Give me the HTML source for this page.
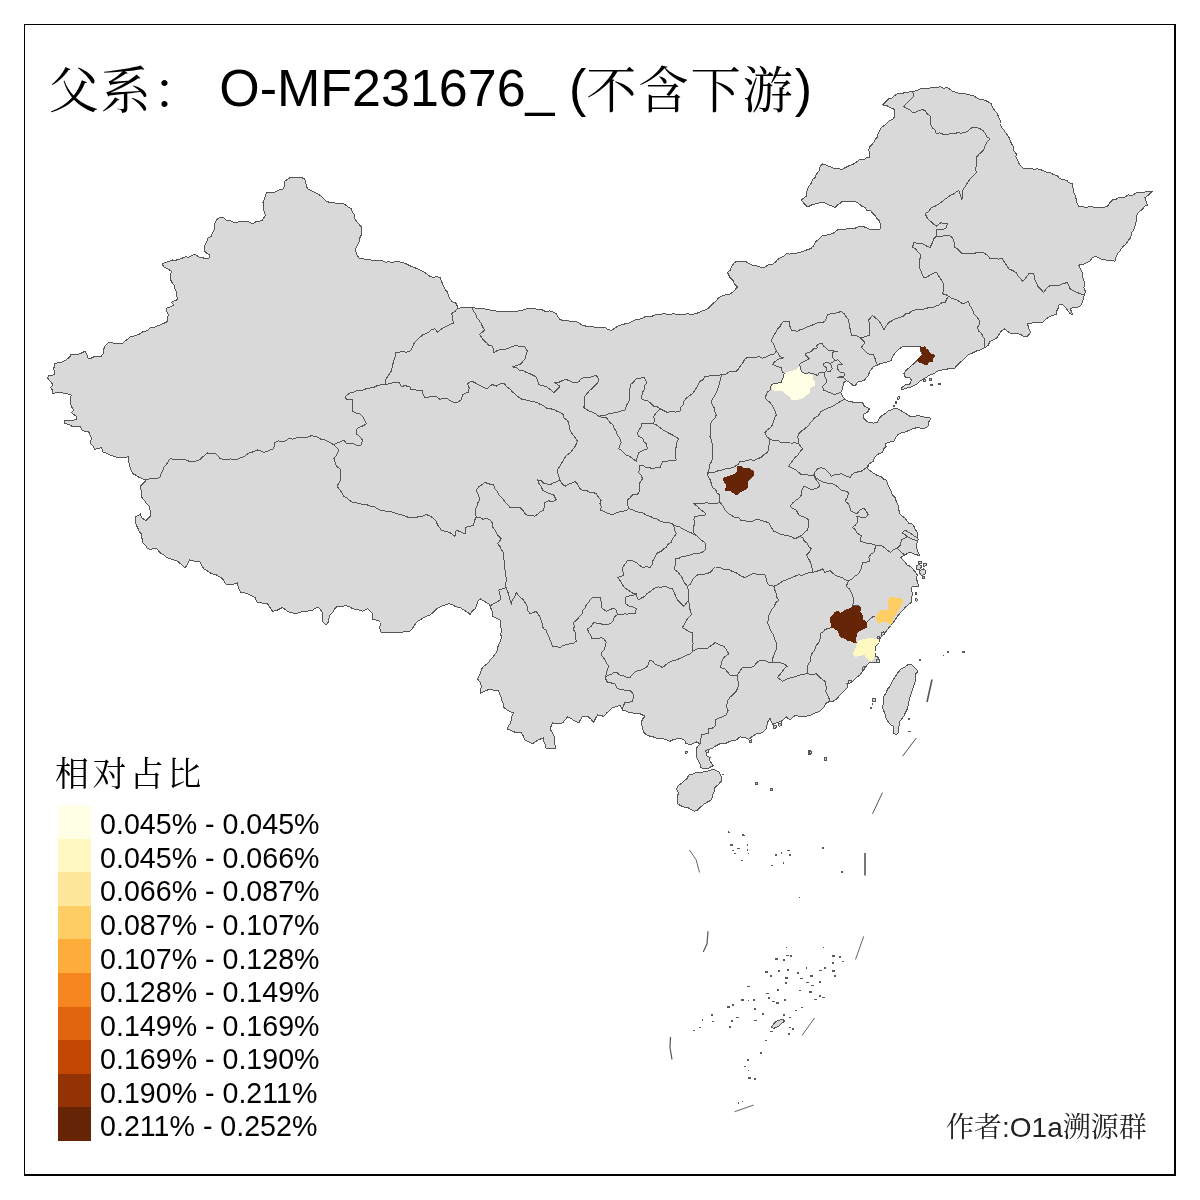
<!DOCTYPE html>
<html lang="zh"><head><meta charset="utf-8"><title>父系 O-MF231676_</title>
<style>
html,body{margin:0;padding:0;background:#fff;}
body{width:1200px;height:1200px;overflow:hidden;position:relative;font-family:"Liberation Sans","Noto Serif CJK SC",serif;color:#000;}
svg{position:absolute;left:0;top:0;}
.t{position:absolute;white-space:nowrap;line-height:1;}
#title{left:48.5px;top:59px;font-size:52px;}
#title .c,#ltitle,.credit .c{font-family:"Noto Serif CJK SC","Noto Serif CJK JP",serif;font-weight:400;}
#title .c{position:relative;top:1.6px;font-size:50.4px;letter-spacing:1.7px;}
#ltitle{left:55px;top:755px;font-size:34px;letter-spacing:3.4px;}
.lab{left:100.1px;font-size:28.6px;}
.credit{left:946px;top:1111px;font-size:28px;color:#222;}
</style></head><body>

<svg width="1200" height="1200" viewBox="0 0 1200 1200">
<g fill="#d9d9d9" stroke="#555555" stroke-width="1" stroke-linejoin="round" shape-rendering="crispEdges">
<path d="M300 177 L304.5 178.75 L305.63 182.04 L306.23 185.5 L307.5 188.75 L310.89 190.31 L314.24 191.93 L317.5 193.75 L320.75 195.86 L323.41 198.66 L326.25 201.25 L329.66 202.36 L333.22 202.48 L336.67 203.31 L340.23 203.39 L343.75 203.75 L347.38 206.43 L351.25 208.75 L352.4 212.12 L354.61 215.09 L355 218.75 L356.97 221.96 L359.45 224.76 L362 227.5 L361.06 230.78 L361.58 234.35 L360 237.5 L359.64 240.98 L357.95 243.93 L356.49 246.97 L355 250 L356.72 254.07 L358.75 258 L362 258.48 L365.21 259.28 L368.55 259.15 L371.72 260.17 L375 260.5 L378.42 260.97 L381.9 260.64 L385.24 262.19 L388.73 261.81 L392.14 262.41 L395.65 261.66 L399.09 261.84 L402.5 262.5 L405.57 263.58 L408.52 264.95 L411.37 266.57 L414.45 267.63 L417.5 268.75 L420.75 270.41 L424.02 272.05 L427.02 274.13 L430 276.25 L433.25 277.33 L436.72 276.64 L440 277.5 L441.75 281.93 L443.75 286.25 L445.1 289.48 L447.61 292.13 L448.41 295.64 L450 298.75 L451.99 301.76 L455.71 303.04 L457.5 306.25 L457.5 308.25 L461.24 307.89 L465 307.82 L468.73 307.24 L472.5 307.5 L475.96 308.27 L479.5 308.47 L483.11 308.2 L486.44 309.95 L490 310 L493.18 310.65 L496.38 311.09 L499.57 311.65 L502.84 311.34 L506.07 311.49 L509.35 311 L512.5 312 L516.06 311.73 L519.44 310.47 L522.96 309.95 L526.38 308.91 L530 309 L534.21 308.8 L538.36 309.38 L542.5 310 L545.75 311.62 L549.64 310.91 L553.02 312.04 L556.25 313.75 L558.01 316.7 L560 319.5 L564.06 320.87 L568.29 320.98 L572.5 321.25 L575.86 321.47 L578.86 322.62 L581.43 324.88 L584.64 325.47 L587.5 327 L591.67 326.38 L595.83 327.54 L600 327 L604.5 327 L607.6 329.29 L611.25 330.5 L614.42 328.45 L617.5 326.25 L621.05 325.13 L624.58 323.97 L628.29 323.33 L631.61 321.57 L635 320 L638.61 319.36 L642.16 318.46 L645.41 316.41 L649.34 317.02 L652.84 315.93 L656.25 314.5 L659.64 314.79 L663.04 313.5 L666.43 314.15 L669.82 314.96 L673.21 313.5 L676.61 314.4 L680 314.5 L683.78 314.87 L687.46 313.4 L691.29 314.82 L695 313.75 L698.24 312.78 L701.22 311.17 L704.44 310.17 L707.5 308.75 L710.57 306.19 L713.17 303.17 L716.38 300.76 L718.75 297.5 L722.06 295.91 L725.55 294.79 L729.26 294.29 L732.5 292.5 L735.01 289.76 L737.5 287 L734.62 284.13 L732.91 280.34 L730 277.5 L727.5 272.5 L730.32 270.18 L731.68 266.72 L733.46 263.6 L736.25 261.25 L740.62 261.18 L745 261.25 L748.79 263.3 L752.5 265.5 L756.69 265.84 L760.74 267.27 L765 267 L768.1 264.98 L771.95 264.63 L775 262.5 L777.38 259.76 L780.36 257.78 L783.65 256.21 L786.25 253.75 L789.74 254.06 L793.17 253.6 L796.58 253 L800 252.5 L803.15 251.32 L806.28 250.08 L809.49 249.04 L812.5 247.5 L814.29 244.33 L816.25 241.25 L819.48 238.49 L822.5 235.5 L825.89 235.23 L829.17 234.33 L832.5 233.75 L837.5 230 L841.73 229.75 L845.88 228.97 L850 228 L854.31 228.41 L858.36 227.01 L862.5 226.25 L866.34 227.66 L870 229.5 L873.33 229.3 L876.67 229.49 L880 229.5 L880.5 223.75 L879.09 220.72 L876.68 218.35 L875 215.5 L872.63 213.33 L870.62 210.72 L866.88 210.28 L865 207.5 L861.34 205.94 L858.4 203.22 L855 201.25 L850.83 201.03 L846.67 201.12 L842.5 201.25 L840.15 203.52 L837.27 205.14 L835 207.5 L831.73 205.86 L828.22 204.76 L825 203 L820.71 202.51 L816.64 203.81 L812.5 204.5 L807.5 207 L804.15 203.7 L801.25 200 L806.25 196.25 L806.82 192.49 L807.5 188.75 L809.27 185.87 L811.22 183.11 L812.29 179.76 L815 177.5 L816.64 173.93 L819.24 170.89 L820.06 166.88 L822.5 163.75 L825.64 164.76 L828.58 166.33 L831.73 167.32 L834.74 168.69 L838.42 168.07 L841.25 170 L844.41 168.08 L847.66 166.33 L851.16 165.05 L854.53 163.53 L857.5 161.25 L860.34 159.35 L863.92 159.95 L866.65 157.67 L870 157.5 L869.75 153.69 L868.75 150 L870.14 146.23 L873 143.38 L875 140 L877.15 137.17 L878.05 133.71 L879.78 130.67 L881.25 127.5 L884.28 125.59 L886.8 123.06 L889.47 120.71 L892.78 119.15 L895 116.25 L894.94 112.41 L893.75 108.75 L889.95 107.65 L886.57 105.3 L882.5 105 L886.25 101.25 L888.71 98.85 L892.15 97.92 L894.61 95.5 L897.5 93.75 L901.26 93.2 L905.06 92.88 L908.77 92 L912.5 91.25 L916.06 90.95 L919.35 89.12 L922.85 88.48 L926.56 88.98 L930 88 L933.48 87.37 L936.98 87.24 L940.48 86.89 L944.02 88.3 L947.5 87.5 L952.5 91.25 L955.91 92.4 L959.33 93.54 L963.11 93 L966.5 94.25 L970 95 L973.65 95.66 L976.73 97.9 L980.01 99.57 L983.75 100 L987.72 101.44 L991.25 103.75 L992.61 107.54 L994.96 110.7 L997.5 113.75 L998.43 117.06 L1000.14 120.17 L1000 123.75 L1001.43 127.49 L1004.21 130.39 L1006.25 133.75 L1007.5 135 L1009.36 137.98 L1010.43 141.35 L1011.99 144.48 L1013.75 147.5 L1013.9 150.86 L1016.16 153.59 L1015.96 157.05 L1017.5 160 L1018.92 163.39 L1021.02 166.3 L1023.75 168.75 L1027.19 168.65 L1030.62 168.34 L1034.06 169.31 L1037.5 168.75 L1040.61 169.75 L1043.73 170.69 L1046.65 172.31 L1050 172.5 L1053.41 174.46 L1057.2 175.82 L1060 178.75 L1063.2 179.8 L1066.62 180.32 L1069.21 182.92 L1072.5 183.75 L1072.95 188.15 L1073.75 192.5 L1075.32 195.82 L1076.25 199.37 L1077.07 202.97 L1078.75 206.25 L1082.19 206.48 L1085.59 207.35 L1089.06 206.78 L1092.5 207 L1096.28 207.38 L1100.04 207.44 L1103.79 207.32 L1107.5 206.25 L1109.71 202.89 L1112.5 200 L1115.74 199.72 L1118.52 197.53 L1121.74 197.17 L1125 197 L1128.46 194.92 L1132.67 195.31 L1136.06 192.98 L1140 192.5 L1144.17 192.08 L1148.32 191.56 L1152.5 191.25 L1150.01 193.35 L1147.71 195.67 L1145 197.5 L1146.13 201.29 L1147.5 205 L1144.35 206.45 L1142.48 209.36 L1139.81 211.34 L1137.5 213.75 L1136.21 216.88 L1136.11 220.27 L1135.93 223.66 L1134.8 226.82 L1133.75 230 L1131.36 233.15 L1130.79 237.31 L1128.41 240.47 L1126.25 243.75 L1123.65 245.89 L1121.55 248.46 L1119.68 251.25 L1117.5 253.75 L1115.83 257.36 L1115 261.25 L1111.68 260.58 L1108.22 260.72 L1105 259.5 L1101.4 259.23 L1098.22 257.67 L1095 256.25 L1092.18 257.94 L1090.2 260.66 L1087.5 262.5 L1083.26 264.23 L1078.75 265 L1080.4 268.62 L1082.05 272.23 L1082.56 276.23 L1083.75 280 L1084.59 283.72 L1083.92 287.51 L1085.31 291.2 L1084.5 295 L1083.25 298.28 L1082.67 301.78 L1081.25 305 L1077.82 307.2 L1073.62 307.12 L1070 308.75 L1071.64 311.81 L1073 315 L1069.67 313.08 L1067.41 310.09 L1065.24 307.01 L1062.5 304.5 L1058.75 305 L1058.16 308.23 L1056.67 311.22 L1056.25 314.5 L1052.37 315.36 L1048.75 317 L1045.38 319.47 L1042.5 322.5 L1038.74 322.63 L1034.94 322.39 L1031.22 323.08 L1027.5 323.75 L1028.77 328.21 L1030.5 332.5 L1027.5 336.25 L1023.82 336.58 L1020.59 334.47 L1017.13 333.59 L1013.47 333.81 L1010 333 L1007.33 331.07 L1005 328.75 L1001.17 331.17 L998.75 335 L996.65 338.22 L993.08 339.81 L989.83 341.76 L988.09 345.38 L985 347.5 L980 350 L976.11 351.15 L972.5 353 L968.2 354.67 L965 358 L962.54 360.3 L960 362.5 L957.27 365.04 L955 368 L948.75 368.75 L942.5 370 L939.22 370.53 L936.25 372 L933.34 373.95 L930 375 L925 378 L920 381.25 L917.5 383.75 L914.4 385.42 L911.25 387 L908.08 387.72 L905 388.75 L901.9 390 L901.9 387.5 L905 385 L910.6 383.75 L911.25 380 L910 378 L905 376.9 L903.75 373.75 L906.25 370 L910 367 L913.75 363.75 L917.5 360 L920 356.9 L922.5 354.4 L920.6 350.6 L920 346.25 L915.6 346.5 L912.08 345.96 L908.53 346.35 L905 346.25 L901.9 346.9 L898.1 350 L895 353.1 L892.5 356.9 L891.25 360.6 L888.16 361.65 L885 362.5 L880 363.75 L877.08 365.52 L873.75 366.25 L870 371.25 L868.1 375.6 L866.07 378.23 L863.75 380.6 L858.1 381.9 L855.6 385 L853.1 385.6 L849.96 382.7 L846.25 380.6 L843.75 382.5 L842.5 388.75 L840.6 392.5 L842.5 396.25 L845 399.4 L848.75 401.25 L855 402.5 L858.75 402.56 L862.5 402.5 L864.4 406.25 L869.4 408.75 L867.5 412.5 L863.1 414.4 L863.1 417.5 L867.5 421.9 L873.75 423.1 L877.5 422.5 L879.4 418.1 L881.91 415.55 L885 413.75 L887.5 411.25 L892.5 409.4 L895 408.1 L898.64 409.25 L901.9 411.25 L906.25 413.75 L910 416.25 L913.84 416.92 L917.5 415.6 L921.25 416.25 L925.54 417.5 L930 417.5 L930 420 L928.1 423.1 L928.75 425 L926.25 427.5 L923.1 428.75 L917.5 427.5 L912.5 428.75 L908.75 430.6 L905 431.9 L901.43 432.82 L898.1 434.4 L895 438.75 L893.75 441.25 L888.1 442.5 L885 443.75 L886.25 446.25 L883.75 448.75 L882.5 452.5 L877.5 454.4 L874.4 457.5 L873.1 461.25 L868.75 464.4 L867.5 466.25 L868.1 469.4 L872.5 472.5 L877.5 475.6 L881.14 476.65 L883.75 479.4 L886.25 480 L887.39 483.47 L888.91 486.77 L890.6 490 L892 494.22 L895 497.5 L896.33 501.34 L898.1 505 L898.79 509.04 L899.4 513.1 L902.01 515.81 L905 518.1 L908.75 523.1 L912.13 524.17 L914.4 526.9 L915.45 529.98 L917.5 532.5 L917.62 535.97 L918.1 539.4 L916.25 545 L917.5 551.25 L920 555.6 L917.5 555 L914.23 554.11 L911.25 552.5 L907.85 553.07 L905 555 L900.6 557.5 L905 561.9 L906.85 564.83 L910 566.25 L913.75 570 L917.5 575 L916.25 577.5 L917.5 582.5 L918.75 586.25 L912.5 586.25 L911.25 588.75 L912.5 593.75 L911.25 598.75 L911.9 601.9 L908.75 604.4 L905 607.5 L902.5 610.6 L900 613.1 L897.5 616.25 L895 620 L891.9 624.4 L890 626.25 L886.25 631.25 L882.5 634.4 L880 638.75 L878.75 643.1 L875.6 646.25 L875 651.25 L875.6 656.25 L878.75 657.5 L879.4 661.25 L875 663.1 L870 661.9 L867.5 664.4 L865 668.1 L862.5 671.25 L860 675 L855 678.75 L851.25 682.5 L846.9 683.75 L847.5 687.5 L843.75 691.25 L840 695 L836.25 699.4 L833.34 701.06 L830 701.25 L826.25 703.1 L823.75 707.5 L820 711.25 L815 713.1 L812.01 714.69 L808.75 715.6 L802.5 716.9 L798.78 716.09 L795 715.6 L792.43 717.72 L790 720 L786.25 716.9 L782.5 720.6 L777.5 722.5 L772.5 724.4 L771.05 721.33 L770 718.1 L767.5 722.5 L766.25 728.75 L763.46 731.67 L760 733.75 L756.25 733.75 L752.5 736.25 L748.75 739.4 L745 737.5 L740 736.9 L736.25 740 L730 741.25 L725 743.75 L720 743.75 L715 746.25 L712.5 748.75 L710 748.75 L706.9 752.5 L706.25 755.6 L710 757.5 L709.99 760.92 L711.9 763.75 L713.1 765.6 L708.75 768.1 L703.75 768.75 L700.6 767.5 L700.22 764.21 L698.75 761.25 L696.88 757.71 L696.25 753.75 L696.15 749.88 L697.5 746.25 L700 743.75 L696.25 741.9 L691.25 744.4 L685.6 743.75 L685 740.6 L681.47 738.77 L677.5 738.75 L673.58 739.48 L670 741.25 L665 739.4 L661.34 738.08 L657.5 738.75 L653.89 737.08 L650 736.25 L646.63 734.79 L643.75 732.5 L642.64 728.09 L641.25 723.75 L642.23 719.55 L645 716.25 L640 713.75 L636.2 713.74 L632.5 712.95 L628.75 712.5 L625.73 710.98 L622.5 710 L620 705 L616.38 706.63 L612.5 707.5 L609.63 710.46 L606.49 713.16 L603.75 716.25 L597.5 715 L595.44 718.66 L593.75 722.5 L590.87 719.13 L587.5 716.25 L582.5 716.25 L580.52 719.57 L578.75 723 L574.92 721.16 L571.45 718.62 L567.5 717 L564.98 719.98 L562.5 723 L559.17 723.45 L555.83 723.34 L552.5 723 L550 728.75 L551.67 731.67 L553.39 734.55 L555 737.5 L554.91 741.25 L555 745 L555 748.75 L550.62 748.65 L546.25 748.75 L545.34 745.02 L543.91 741.4 L543.75 737.5 L540.82 738.86 L537.84 740.12 L535.2 741.98 L532.5 743.75 L528.7 741.97 L525 740 L523.34 736.14 L521.25 732.5 L517.7 732.27 L514.16 731.98 L510.94 730.22 L507.5 729.5 L508.27 726.15 L510.38 723.32 L511.25 720 L511.93 716.06 L513.75 712.5 L509.97 711.73 L506.83 709.68 L503.75 707.5 L503.76 703.96 L501.88 700.88 L501.25 697.5 L499.29 693.99 L498.75 690 L495 690.42 L491.25 689.71 L487.5 690 L483.63 691.63 L480 693.75 L480.72 690.02 L481.25 686.25 L480.1 682.14 L477.5 678.75 L479.52 675.16 L480.82 671.25 L482.5 667.5 L485.23 665.23 L488.14 663.14 L490 660 L492.93 656.99 L495.45 653.67 L497.5 650 L497.87 646.7 L499.3 643.73 L500.7 640.74 L501.25 637.5 L500.84 634.01 L501.34 630.46 L500.83 626.98 L500.75 623.46 L500 620 L496.2 618.23 L492.5 616.25 L492.64 612.67 L491.49 609.42 L490 606.25 L488.75 603.75 L485.77 602.19 L482.94 600.37 L480 598.75 L477.44 601.64 L476.84 605.5 L475 608.75 L472.14 611.31 L470 614.5 L466.98 611.72 L463.34 609.83 L460 607.5 L456.05 606.86 L452.53 604.9 L448.75 603.75 L444.31 605.19 L440 607 L437.11 608.51 L434.73 610.66 L432.49 612.99 L430 615 L426.67 616.14 L423.62 617.86 L420.57 619.59 L417.5 621.25 L414.98 624.57 L412.61 628 L410 631.25 L406.23 631.06 L402.53 632.2 L398.77 632.16 L395 632 L391.56 632.12 L388.15 633.05 L384.7 632.61 L381.25 632.5 L379.84 628.86 L380.04 625.04 L380 621.25 L376.32 620.07 L372.5 619.5 L372.5 613.75 L370.22 611.03 L367.5 608.75 L362.5 611.25 L359.37 610.22 L356.21 609.25 L352.87 608.8 L350 607 L345.89 605.75 L341.68 606.22 L337.5 606.25 L334.54 608.78 L332.87 612.4 L330 615 L328.85 618.37 L328.44 622.02 L326.25 625 L322 621.25 L322.68 616.9 L322.5 612.5 L318.75 607.5 L315.15 608.14 L312.19 610.7 L308.45 610.9 L305 612 L300.81 611.99 L296.74 613.63 L292.5 613 L288.68 612.04 L285.55 609.85 L282.5 607.5 L279.29 609.07 L276.1 610.72 L272.5 611.25 L270.01 607.49 L267.5 603.75 L264.18 603.36 L260.86 602.9 L257.5 603 L255 597.5 L251.51 595.76 L248.04 593.98 L244.35 592.78 L240.5 592 L238.32 587.73 L237.5 583 L234.22 583.94 L230.95 584.91 L227.5 585 L224.96 582.88 L223.3 580.03 L221.25 577.5 L218.33 576.04 L215.54 574.34 L212.11 573.91 L209.28 572.28 L206.66 570.22 L203.75 568.75 L201.78 565.43 L200 562 L196.47 561.5 L192.99 560.7 L189.5 560 L187.61 564.2 L185 568 L182.76 565.46 L180.13 563.36 L177.5 561.25 L173.73 559.88 L169.87 558.76 L166.25 557 L163.69 554.82 L160.58 553.24 L158.39 550.65 L156.25 548 L153.12 548.73 L150 549.5 L146.94 547.77 L145.07 544.75 L142.5 542.5 L141.96 538.11 L141.25 533.75 L138.93 531.21 L137.8 527.99 L136.25 525 L135.45 521.03 L135 517 L138 515.6 L140.75 513.75 L141.25 517.5 L145.75 520.5 L148.49 518.24 L150.75 515.5 L150.11 510.88 L149.5 506.25 L146.64 503.64 L144.44 500.47 L142 497.5 L141.3 493.76 L141.06 489.93 L140 486.25 L143.24 483.24 L146.25 480 L142.79 478.8 L139.36 477.55 L136.3 475.5 L133.1 473.75 L130.87 469.53 L129.4 465 L128.47 461 L128.75 456.9 L125 457.16 L121.26 457.57 L117.5 457.5 L113.77 456.19 L110 455 L106.67 453.19 L103.1 451.9 L101.25 447.5 L97.89 448.67 L94.4 449.4 L93.33 446.02 L90.6 443.75 L91.25 437.5 L88.75 431.9 L82.5 430.6 L80.6 426.9 L76.54 426.88 L72.5 426.5 L68.66 424.43 L64.4 423.5 L65 420.6 L68.76 420.27 L72.57 420.41 L76.25 419.4 L76.25 416.25 L71.25 412.5 L73.75 410 L71.25 406.64 L70.6 402.5 L70.51 398.71 L71.25 395 L67.16 393.87 L63 393 L59.65 392.42 L56.25 392.5 L52.5 393.75 L52.51 390.33 L50.6 387.5 L53.1 385 L50.44 381.44 L47.5 378.1 L48.75 375.6 L52.07 375.35 L55 373.75 L53.75 368.75 L55 363.1 L58.82 362.92 L62.5 361.9 L65.5 360.44 L68.06 358.36 L70.6 356.25 L70.6 354.4 L74.05 354.31 L77.5 354.4 L81.36 353.08 L85 351.25 L86.81 354.42 L87.5 358 L91.02 358.21 L94.3 356.57 L97.83 356.82 L101.25 356.25 L103.44 353.27 L103.63 349.54 L105 346.25 L108.75 342.5 L112.19 342.82 L115.57 343.76 L119.06 343.45 L122.5 343.75 L124.7 341.17 L127.59 339.36 L130 337 L133.43 336.22 L136.79 335.2 L140 333.75 L143.12 331.47 L147.15 330.75 L150 328 L153.6 327.88 L156.67 326.01 L160 325 L164.06 323.26 L168 321.25 L167.51 317.96 L168.28 314.57 L166.86 311.34 L167 308 L170.53 306.84 L173.75 305 L171.25 302.5 L174.52 300.76 L178 299.5 L176.63 296.02 L176.38 292.23 L175 288.75 L174.24 285.51 L172.16 282.92 L170.75 280 L170.63 275.6 L171.25 271.25 L167.72 268.74 L163.75 267 L162 263.75 L165.49 262.47 L169.06 261.41 L172.5 260 L176 260.15 L179.29 259.28 L182.5 258 L185.55 256.85 L189.02 257.21 L191.88 255.38 L195 254.5 L200 257.5 L204.73 258.18 L209.5 258 L210 255 L207.05 253.42 L204.5 251.25 L205 245 L206.85 241.86 L207.92 238.25 L211.47 236.13 L212.5 232.5 L214.33 229.5 L214.12 225.78 L215.09 222.48 L217 219.5 L220 217 L223.77 217.55 L226.63 220.35 L230.41 220.89 L233.75 222.5 L237.18 222.15 L240.61 221.7 L244.06 221.5 L247.5 221.25 L252.5 223.75 L255.62 221.94 L259.17 221.26 L262.5 220 L265.5 215 L263.89 210.99 L263.79 206.67 L263 202.5 L264.24 199.39 L265.41 196.25 L266.25 193 L270.61 192.37 L275 192 L279.2 189.91 L283.75 188.75 L284.46 185.01 L285 181.25 L287.98 178.9 L291.25 177 L295.62 177.86 Z"/>
<path d="M688.75 775 L692.6 774.04 L696.25 772.5 L700.62 772.15 L705 771.9 L709.32 770.47 L713.75 769.4 L718.75 771.9 L721.25 776.25 L721.25 781.25 L718.32 784.57 L715 787.5 L714.41 790.73 L713.1 793.75 L712.31 796.92 L711.25 800 L707.44 802.1 L703.75 804.4 L700.49 807.05 L697.5 810 L694.4 811.25 L691.35 809.79 L688.44 807.97 L685 807.5 L681.12 805.88 L677.5 803.75 L677.51 800 L677.5 796.25 L678.5 792.92 L676.75 789.58 L677.5 786.25 L681.9 783.1 L684.26 780.77 L686.9 778.75 Z"/>
<path d="M908.75 664 L911.9 665 L915.6 668.75 L918.1 671.25 L915.6 673.75 L915.6 680 L914.29 683.73 L913.1 687.5 L911.8 691.23 L910.6 695 L909.54 698.72 L908.75 702.5 L907.91 706.27 L906.9 710 L905.21 713.07 L903.75 716.25 L900 721.25 L898.75 727.5 L898.1 733.1 L896.25 734.75 L893.75 733.1 L893.44 729.67 L893.1 726.25 L889.4 723.75 L886.25 718.75 L885.58 715.55 L884.4 712.5 L882.5 707.5 L883.75 701.25 L883.1 697.5 L886.25 692.5 L887.56 689.03 L890 686.25 L891.6 682.36 L893.75 678.75 L895.92 675.62 L898.1 672.5 L901.25 668.75 L905 666.9 Z"/>
<path d="M881 633 L883.5 632 L884.5 634.5 L882 635.5 Z"/>
<path d="M877 636.5 L879 636 L879.5 638.5 L877.5 639 Z"/>
<path d="M876.5 659.5 L879 659 L879.5 662 L877 662.5 Z"/>
<path d="M862 667.5 L864.5 666.5 L865 668.5 L863 669.5 Z"/>
<path d="M848 681 L851 680 L851.5 682.5 L848.5 683.5 Z"/>
<path d="M685 751 L687 751 L687 753 L685 753 Z"/>
<path d="M755.2 782 L757.3 782 L757.3 784.2 L755.2 784.2 Z"/>
<path d="M770.5 788.5 L772.7 788.5 L772.7 790.7 L770.5 790.7 Z"/>
<path d="M808.5 750.5 L810.5 750.5 L810.5 754.5 L808.5 754.5 Z"/>
<path d="M773 726 L776 725 L777 727.5 L774 728.5 Z"/>
<path d="M778.5 724 L781.5 723 L782 725.5 L779 726.3 Z"/>
<path d="M749 740.5 L751.5 740 L752 742 L749.5 742.5 Z"/>
<path d="M705.5 750.5 L708 749.5 L709 752 L706.5 753 Z"/>
<path d="M916 566 L919 564.5 L921.5 566 L920.5 569 L917 569.5 Z"/>
<path d="M920 570.5 L923.5 569 L926 571 L925 574 L921.5 575.5 L919.5 573 Z"/>
<path d="M918 561.5 L921 561 L922 563 L919 563.5 Z"/>
<path d="M923.5 563.5 L926 563 L926.5 565.5 L924 566.5 Z"/>
<path d="M922 577 L924 576.5 L924 578.5 L922 578.5 Z"/>
<path d="M915.5 599 L917 598.5 L917 601 L915.5 601 Z"/>
<path d="M915 592.5 L916.5 592.5 L916.5 594.5 L915 594.5 Z"/>
<path d="M897.5 397.5 L899 396.5 L899.5 398.5 L898 399.5 Z"/>
<path d="M895 401 L896.5 401 L896.5 403 L895 403 Z"/>
<path d="M893 405 L894.8 405 L894.8 406.6 L893 406.6 Z"/>
<path d="M923.5 380 L925.5 379.5 L925.5 381.5 L923.5 381.5 Z"/>
<path d="M929 379 L931 378.5 L931.5 380.5 L929.5 381 Z"/>
<path d="M930.5 384 L932.5 384 L932.5 385.5 L930.5 385.5 Z"/>
<path d="M938 383 L940 383 L940 384.8 L938 384.8 Z"/>
<path d="M872.5 699 L875 698.5 L875.5 701 L873 701.5 Z"/>
<path d="M809 751 L811.5 751 L811.5 753.5 L809 753.5 Z"/>
<path d="M824 757.5 L826.5 757.5 L826.5 760 L824 760 Z"/>
<path d="M771 1027 L776 1021.5 L783 1019 L784.5 1021 L779 1026 L773.5 1028.5 Z"/>
</g>
<path d="M771.7 384.7 L775 383.3 L781 382.7 L783 378 L784.3 373.3 L789.7 371.3 L795 370 L798.3 367.3 L800.3 366 L801 370.7 L803.7 373.3 L807 374 L812.3 374 L813 378.7 L815 382 L815 385.3 L812.3 386.7 L810.3 388.7 L809.7 393.3 L805.7 396 L803 398 L798.3 399.7 L791.3 399.7 L789.7 396.7 L786.3 394.7 L783.7 392.7 L782.3 390.7 L775 391 L772 389.3 Z" fill="#ffffe5" shape-rendering="crispEdges"/>
<path d="M920 346.25 L923.1 347.5 L925 345 L926.25 348.75 L928.75 350 L930 353.1 L934.4 354.4 L934.75 356.9 L932.5 359.4 L932.5 361.9 L928.75 362.5 L926.9 365.6 L922.5 363.75 L918.75 362.5 L916.9 360 L920 356.9 L922.5 354.4 L920.6 350.6 Z" fill="#662506" shape-rendering="crispEdges"/>
<path d="M737 466 L741 466 L743 468 L749 468 L753.5 471 L753.5 476 L751 478 L748 481 L747.5 488 L745 490 L741 492 L737 495.5 L733 493 L730 491 L724.5 491 L724.5 488.5 L726 487 L725.5 484 L722.5 480 L723 478 L730 475.5 L734 474 L737 472 L737.5 469.5 Z" fill="#662506" shape-rendering="crispEdges"/>
<path d="M852.5 605.4 L859.2 605 L860.8 607.9 L860.4 611.7 L862.5 615 L862.5 619.2 L865 620.8 L867.1 622.1 L867.1 627.5 L864.2 629.2 L860 630.8 L856.7 634.2 L856.25 640 L856.7 643.3 L853.3 642.9 L850 641.25 L847.1 640.8 L845.8 638.75 L842.5 638.3 L839.2 636.25 L839.2 633.3 L836.25 630 L832.9 627.9 L830.4 627.9 L831.25 624.2 L829.6 621.7 L830 617.9 L832.9 615 L834.2 612.1 L837.5 610.8 L840.8 612.9 L844.2 610.4 L848.3 608.75 L851.7 607.1 Z" fill="#662506" shape-rendering="crispEdges"/>
<path d="M889.2 597.5 L893.3 597.1 L897.5 598.3 L902.1 598.3 L902.9 601.7 L901.7 605 L900 607.9 L898.3 610.8 L896.25 614.2 L894.2 616.7 L892.9 620.8 L891.25 624.2 L890.4 626.7 L889.2 623.3 L885.8 621.7 L881.7 622.5 L879.2 624.2 L876.7 620.8 L875.4 615.8 L878.3 614.2 L878.75 610.8 L882.5 610 L887.5 609.6 L888.75 605.8 L887.5 601.7 L888.75 599.6 Z" fill="#fece65" shape-rendering="crispEdges"/>
<path d="M856.7 643.3 L859.2 640 L863.3 639.2 L868.3 638.3 L872.5 637.5 L875 639.2 L879.2 639.2 L879.6 642.5 L876.7 645 L874.6 647.5 L875.8 651.7 L875 656.7 L873.3 659.2 L871.7 661.7 L868.75 660 L865.8 657.5 L865 655 L860.8 655.8 L855.8 656.7 L852.9 655 L853.3 652.1 L855 649.2 L856.25 645.8 Z" fill="#fff8c1" shape-rendering="crispEdges"/>
<g fill="none" stroke="#555555" stroke-width="1" stroke-linejoin="round" stroke-linecap="butt" shape-rendering="crispEdges">
<path d="M146.25 480 L149.59 478.82 L153.02 478.18 L156.62 478.46 L160 477.5 L160.92 474.04 L162.83 470.96 L163.75 467.5 L166.17 464.82 L168.05 461.76 L170 458.75 L174.14 459.44 L178.34 459.53 L182.5 460 L185.99 459.91 L189.17 461.32 L192.5 462 L196.33 460.99 L200 459.5 L202.31 457.11 L204.96 455.13 L207.5 453 L211.25 453.41 L215 453 L217.86 455.56 L220 458.75 L223.48 459.25 L226.96 460.05 L230.51 458.9 L234 459.43 L237.5 459.5 L240.58 457.68 L244.16 456.74 L246.96 454.4 L250 452.5 L253.91 451.72 L257.5 450 L260.77 450.9 L263.75 452.5 L267.08 451.24 L270.41 449.99 L273.75 448.75 L275 442.5 L278.34 440.79 L282.25 441.78 L285.73 440.73 L288.97 438.56 L292.79 439.15 L296.25 438 L299.99 437.58 L303.77 437.55 L307.52 437.15 L311.17 435.78 L315 436.25 L318.37 437.39 L321.38 439.52 L325 440 L328.07 441.39 L331.11 442.84 L333.75 445"/>
<path d="M457.5 308.25 L454.87 311.56 L451.25 313.75 L452.73 316.92 L452.74 320.46 L453.75 323.75 L450.09 324.13 L447 326.03 L443.75 327.5 L440.55 329.64 L437.5 332 L435 328.75 L431.43 329.42 L428.88 332.13 L425.79 333.77 L422.5 335 L419.38 337.71 L416.45 340.62 L413.75 343.75 L412.37 347.75 L410 351.25 L406.43 352.2 L402.74 351.72 L399.11 352.05 L395.5 352.5 L395.49 355.78 L394.19 358.77 L393.67 361.94 L392.42 364.94 L392.02 368.14 L391.25 371.25 L389.37 374.03 L387.58 376.86 L385.5 379.5 L385.5 384.5"/>
<path d="M385.5 384.5 L381.5 384.81 L377.58 385.5 L373.92 387.32 L370 388 L366.64 388.35 L363.6 390 L360.24 390.36 L356.9 390.8 L353.75 392 L349.24 393.38 L345.5 396.25 L346.25 399.5 L352.5 400 L352.71 403.75 L352.54 407.5 L352.5 411.25 L355.79 413.01 L359.54 413.85 L362.5 416.25 L364.37 420 L366.25 423.75 L363.34 425.74 L359.99 426.9 L357 428.75 L356.25 433.75 L359.81 436.44 L362.5 440 L361.25 445 L357.37 445.49 L353.75 443.98 L350.02 443.36 L346.25 443 L343.75 440 L340.55 441.94 L336.86 442.9 L333.75 445"/>
<path d="M385.5 384.5 L388.78 383.73 L392.06 382.92 L395.49 382.88 L398.75 382 L401.25 386.25 L405.7 385.77 L410 387 L411.25 390 L414.85 389.79 L418.42 390.32 L422 390.5 L423.07 394.18 L425 397.5 L428.74 396.99 L432.52 396.84 L436.25 396.25 L440 399.5 L443.04 398.4 L446.25 398 L449.91 400.39 L453.75 402.5 L457.79 402.12 L461.25 400 L462.5 395 L465.46 393.16 L468.75 392 L469.11 387.73 L467.5 383.75 L471.25 381.25 L474.65 382.43 L477.75 384.26 L480.96 385.84 L484.01 387.76 L487.5 388.75 L489.56 386.11 L492.5 384.5 L496.25 386.25 L501.25 383 L504.72 384.08 L506.9 387.11 L510 388.75 L512.19 391.56 L514.76 393.99 L517.5 396.25 L521.48 399.04 L526.25 400 L529.98 400.94 L533.72 401.8 L537.5 402.5 L540.4 404.52 L543.66 405.81 L546.47 408.01 L550 408.75 L553.57 409.36 L556.74 411.06 L560 412.5 L562.94 414.34 L564.04 417.79 L566.72 419.87 L568.75 422.5 L569.09 425.96 L569.45 429.41 L571.25 432.5 L573.34 435.41 L575.53 438.25 L577.5 441.25 L576.07 444.3 L574.57 447.31 L572.5 450 L570.25 452.75 L567.25 454.75 L565 457.5 L563.11 460.61 L561.22 463.73 L559.46 466.92 L557.5 470 L557.85 473.46 L558.9 476.73 L560 480 L556.7 481.74 L553.17 483.01 L550 485 L546.84 483.83 L543.51 483.09 L540.92 480.51 L537.5 480 L538.94 483.45 L541.3 486.43 L542.5 490 L546.01 492.21 L549.92 493.51 L553.75 495 L556.25 500"/>
<path d="M556.25 500 L552.69 501.67 L548.56 500.8 L545 502.5 L544.19 506.22 L543.75 510 L540.55 511.68 L537.85 514.08 L535 516.25 L531.65 515.5 L528.13 515.41 L525 513.75 L522.92 510.29 L520 507.5 L516.67 507.48 L513.33 507.66 L510 507.5 L507.64 504.56 L505.03 501.85 L502.78 498.82 L500 496.25 L498.26 493.54 L496.86 490.63 L494.44 488.3 L493.75 485 L489.31 483.97 L485 482.5 L481.84 484.72 L478.69 486.94 L476.25 490 L477.69 493.26 L478.81 496.64 L480 500 L477.55 502.94 L476.83 506.75 L475 510 L475.23 513.57 L476.25 517"/>
<path d="M472.5 307.5 L473.24 311.04 L475.61 313.76 L476.58 317.18 L478.75 320 L481.01 323.14 L482.48 326.72 L484.5 330 L482.03 332.28 L479.5 334.5 L481.7 337.21 L483.53 340.23 L486.25 342.5 L488.86 345.23 L492.5 346.25 L493.48 349.56 L493.75 353 L496.72 350.97 L500 349.5 L503.78 349.4 L507.5 348.75 L511.67 346.58 L516.25 345.5 L520.58 346.52 L525 347 L527.5 351.25 L525.95 354.9 L525 358.75 L522.62 361.73 L520 364.5 L516.16 365.47 L512.5 367 L516.25 367.58 L519.22 370.14 L523.13 370.34 L526.25 372.5 L529.74 373.65 L533.04 375.22 L536.25 377 L537.71 380.68 L538.75 384.5 L542.39 385.83 L546.25 386.25 L548.72 388.37 L551.39 390.25 L553.75 392.5 L557.09 389.59 L560 386.25 L555 382.5 L558.97 382.34 L562.5 380.5 L566.25 379.5 L569.52 380.86 L572.69 382.48 L576.25 383 L579.25 381.12 L581.68 378.42 L585 377 L588.93 377.32 L592.68 376.65 L596.25 375 L598.1 378.52 L598 382.5 L595.42 385.26 L592.63 387.84 L589.81 390.39 L587.33 393.25 L585 396.25 L584.73 400.02 L584.74 403.81 L583.75 407.5 L586.72 409.3 L589.46 411.49 L593.05 412.23 L596.03 414.01 L598.75 416.25"/>
<path d="M598.75 416.25 L602.5 415.61 L606.25 415 L609.12 413.2 L612.46 413.2 L615.56 412.27 L618.81 411.91 L621.78 410.46 L625 410 L626.22 406.05 L628.14 402.41 L630 398.75 L629.97 395.31 L629.63 391.88 L630.01 388.44 L630 385 L633.42 382.17 L636.25 378.75 L640.15 378.51 L643.75 377 L647 382.5 L644.64 385.45 L644.39 389.34 L642.5 392.5 L641.25 398.75 L644.69 400.21 L648.36 401.19 L651.25 403.75 L653.67 406.28 L657.28 406.74 L660 408.75"/>
<path d="M660 408.75 L657.93 411.26 L655.61 413.57 L653.75 416.25 L654.5 420 L653.75 423.75"/>
<path d="M653.75 423.75 L649.58 423.49 L645.42 423.76 L641.25 423.75 L640.94 427.43 L638.6 430.36 L637.5 433.75 L639.19 436.68 L642.63 438.09 L643.73 441.54 L646.25 443.75 L647.5 448.75 L643.08 450.52 L638.75 452.5 L637.25 456.8 L636.25 461.25 L633.05 458.96 L629.96 456.48 L626.25 455 L623.67 453.01 L621.56 450.46 L618.75 448.75 L619.79 445.54 L621.25 442.5 L619.95 438.59 L617.51 435.18 L616.25 431.25 L614.2 428.54 L613.02 425.19 L610.45 422.86 L608.18 420.3 L606.25 417.5 L602.4 417.5 L598.75 416.25"/>
<path d="M653.75 423.75 L657.1 425.25 L659.95 427.59 L662.86 429.82 L666.13 431.45 L669.23 433.37 L672.5 435 L675.64 436.86 L678.75 438.75 L676.79 442.26 L676.45 446.32 L675 450 L675.72 453.3 L675.35 456.73 L676.25 460 L672.81 460.28 L669.39 460.78 L665.97 461.25 L662.5 461.25 L661.38 464.43 L660 467.5 L656.19 467.79 L652.5 468.75 L649.43 467.63 L646.06 467.51 L643.19 465.71 L640 465 L639.28 468.73 L638.75 472.5 L641.1 475.34 L642.5 478.75 L640 482.5 L639.16 486.2 L639.32 490.02 L638.75 493.75 L632.5 495 L630.13 497.63 L627.5 500 L627.69 504.44 L628.75 508.75"/>
<path d="M560 480 L561.93 483.58 L565 486.25 L568.16 484.24 L571.77 483.13 L575 481.25 L577.9 484.73 L580 488.75 L582.96 490.71 L586.58 490.49 L589.56 492.38 L593.1 492.41 L596.25 493.75 L598.4 497.15 L601.25 500 L599.84 503.21 L601.41 506.79 L600 510 L603.21 511.03 L606.15 512.76 L609.39 513.7 L612.5 515 L616.73 512.79 L621.25 511.25 L625.32 510.95 L628.75 508.75"/>
<path d="M660 408.75 L663.73 410.66 L667.5 412.5 L671.58 411.18 L675.88 412.13 L680 411.25 L680.36 407.58 L683.09 404.81 L683.75 401.25 L686.34 398.21 L689.43 395.68 L692.68 393.3 L695 390 L697.05 387.29 L698.38 384.05 L700.25 381.2 L703.53 379.38 L705 376.25 L708.54 376.31 L711.96 375.1 L715.55 375.67 L719.03 375.12 L722.5 374.5"/>
<path d="M722.5 374.5 L726.02 374.03 L729.14 371.9 L732.77 371.9 L736.25 371.25 L738.84 368.41 L740.96 365.23 L743.21 362.15 L745 358.75 L748.19 357.28 L751.68 357.88 L755 357.3 L759.7 356.7 L762.3 358.3 L766.3 357 L770.3 354.7 L774.3 354 L776.3 351"/>
<path d="M776.3 351 L774.86 347.63 L773.82 344.04 L771.25 341.25 L772.34 337.89 L774.21 334.92 L775.96 331.88 L777.5 328.75 L779.96 326.56 L781.48 323.59 L783.75 321.25 L789.5 321.25 L789.76 325.75 L791.25 330 L797.5 331.25 L800.33 329.6 L803.56 328.89 L806.39 327.23 L809.53 326.33 L812.5 325 L815.52 323.7 L818.5 322.28 L822.05 322.76 L825 321.25 L826.4 318.19 L827.5 315 L830.86 313.77 L834.4 313.23 L837.96 312.71 L841.25 311.25 L844.16 313.82 L846.3 317.04 L848.75 320 L849.08 323.8 L849.71 327.55 L850.81 331.22 L851.25 335 L855.9 335.29 L860 337.5"/>
<path d="M860 337.5 L863.5 337.33 L866.71 336.01 L870 335 L869.69 331.25 L869.22 327.51 L869.21 323.74 L868.75 320 L872.5 315.5 L875.16 317.66 L877.88 319.75 L880 322.5 L882.24 326.07 L883.75 330 L885.98 326.07 L888.75 322.5 L892.36 320.53 L895.99 318.58 L900 317.5 L903.16 316.31 L905.68 313.86 L909.16 313.32 L911.75 311 L915 310 L918.53 309.69 L922.11 309.75 L925.52 308.61 L928.94 307.6 L932.5 307.5 L935.63 306.27 L938.78 305.08 L941.52 302.86 L945 302.5 L946.59 299.2 L948.75 296.25"/>
<path d="M860 337.5 L862.44 340.06 L865 342.5 L861.25 347.5 L864.56 350.44 L867.5 353.75 L873.75 355 L874.96 358.35 L875.87 361.81 L877.5 365"/>
<path d="M948.75 296.25 L945.78 294.61 L942.5 293.75 L943.41 290.48 L943.65 287.12 L943.75 283.75 L941.74 280.9 L939.99 277.88 L938 275.02 L936.25 272 L933.19 273.53 L930.04 274.84 L927.26 276.99 L923.75 277.5 L922.16 274.24 L920.9 270.84 L919.5 267.5 L919.09 264.04 L919.74 260.62 L920.16 257.2 L920 253.75 L917.44 251.74 L915.64 248.82 L912.5 247.5 L913.75 242.5 L920 243.75 L923.68 244.06 L926.71 246.14 L930 247.5 L932.5 242.5 L933.52 238.86 L936.25 236.25"/>
<path d="M936.25 236.25 L936.25 230 L939.61 229.86 L942.95 229.65 L946 228 L947.5 223.5 L944.1 223.99 L941 222.5 L936.25 226.25 L933.8 224.11 L931.43 221.86 L928.75 220 L926.73 216.96 L925 213.75 L928.52 211.49 L931.07 207.95 L935 206.25 L938.39 204.45 L941.37 202.04 L944.38 199.7 L947.5 197.5 L950.14 195.48 L953.31 194.3 L955.8 192.02 L958.75 190.5 L960.26 195.04 L962 199.5 L962.31 195.87 L962.18 192.17 L963.75 188.75 L965.82 185.41 L968.01 182.14 L970 178.75 L973.42 175.92 L976.25 172.5 L975.77 168.75 L976.23 165 L976.59 161.25 L976.25 157.5 L978.5 154.74 L981.16 152.29 L983.6 149.68 L985 146.25 L987.08 142.22 L990 138.75 L986.79 136.96 L985.33 133.42 L983.09 130.66 L980 128.75 L977.01 127.39 L973.75 127 L970.6 128.45 L968.1 130.95 L965 132.5 L961.28 133.2 L957.46 132.64 L953.79 133.94 L950 133.75 L946.56 134.75 L943.12 134.3 L939.69 132.75 L936.25 133.75 L935.56 130.45 L932.79 128.31 L931.21 125.51 L930 122.5 L930.13 119 L930 115.5 L927.24 113.82 L925.45 110.94 L922.5 109.5 L919.18 110.54 L916.01 112.07 L912.5 112.5 L910 109.83 L906.48 108.59 L903.75 106.25 L906.34 103.84 L908.75 101.25 L911.13 98.63 L913.75 96.25 L912.5 91.25"/>
<path d="M936.25 236.25 L940 236.43 L943.75 235.87 L947.5 235.25 L951.25 236.25 L953.45 239.68 L954.41 243.53 L955 247.5 L957.77 249.26 L960.01 251.66 L962.5 253.75 L966.04 253.66 L969.59 253.81 L973.13 253.44 L976.65 252.81 L980.19 252.74 L983.75 253 L987.55 255.14 L990 258.75 L994.17 258.66 L998.33 259.02 L1002.5 258.75 L1004.34 262.24 L1006.72 265.38 L1008.75 268.75 L1012.54 270.54 L1016.25 272.5 L1017.91 275.72 L1020.41 278.34 L1022.5 281.25 L1024.9 279.01 L1026.91 276.46 L1028.75 273.75 L1033.75 273.75 L1034.58 276.91 L1034.94 280.21 L1036.86 283.03 L1037.5 286.25 L1040.76 289.24 L1043.75 292.5 L1045.9 289.1 L1048.75 286.25 L1052.11 285.19 L1055.78 285.84 L1059.24 285.33 L1062.5 283.75 L1067.5 282.5 L1068.74 285.63 L1070 288.75 L1073.5 290.6 L1076.99 292.47 L1080.7 293.85 L1084.5 295"/>
<path d="M948.75 296.25 L951.87 298.71 L955.96 299.39 L959.23 301.57 L962.5 303.75 L965.72 302.73 L968.75 301.25 L969.27 304.67 L971.2 307.52 L972.94 310.45 L973.75 313.75 L975.98 316.13 L978.2 318.52 L980 321.25 L979.19 324.55 L977.5 327.5 L978.67 331.05 L981.55 333.57 L983.12 336.88 L985 340 L984 343.75 L985 347.5"/>
<path d="M776.3 351 L777.7 352.7 L779.7 356.7 L783.7 357.7 L778.3 359.3 L774.3 362 L772.7 364.3 L776.3 366.3 L781.3 367.7 L782.3 372 L784.3 373.3 L783 378 L781 382.7 L775 383.3 L771.7 384.7 L770.3 387.3 L771 389.3 L767.3 392.3 L765.3 397.3 L766.7 400 L770.3 402.7 L773 406.7 L775 410.7 L776.25 415 L774.39 418.1 L773.58 421.6 L772.5 425 L770.24 427.74 L767.34 429.84 L765 432.5 L766.77 436.52 L770 439.5"/>
<path d="M800 366 L799.3 364.7 L801 362.7 L805.3 361 L809.3 358.7 L806 355.7 L805.3 353.7 L808.79 352.51 L812 350.7 L814.7 348 L817.3 348 L816.7 345.7 L819.3 343.7 L822.3 343.3 L823.3 345.7 L826.3 348.3 L827.7 350 L832.7 350.3 L834 351.7 L837.3 351.3 L834 351.7 L832.7 353 L832 355.3 L833.3 358.7 L835.3 360.3 L832.7 362 L830.7 363.3 L827.35 362.61 L824 363.3 L823.3 365.3 L826 367.3 L826.7 370 L825.3 371.7 L823.7 372.7 L819.3 372.3 L817.7 375.7 L815.3 374.3 L812.7 373.7 L808.7 372.7 L806.3 374 L803.3 372.7 L801.3 371.3 L800.7 368 L800 366"/>
<path d="M835.3 360.3 L838 359.7 L840 362 L842.7 364.7 L840 364.3 L837.3 365.3 L837.3 368.7 L840.7 372.7 L843.3 372.3 L844.7 374 L844.3 376 L839.3 376.7 L837.3 378 L840.7 377.3 L844 377.7 L846.5 380.4"/>
<path d="M824.3 372.7 L824.7 376 L826 378.7 L826 382.7 L822.7 386.7 L823.3 390 L826 391 L830 392.7 L833.3 394.3 L836 394 L840.8 392.6"/>
<path d="M845 398.75 L841.64 400.79 L838.18 402.68 L835 405 L831.29 406.77 L827.4 408.12 L823.75 410 L820.37 411.96 L818.43 415.6 L815 417.5 L812.84 420.02 L810.53 422.41 L808.67 425.21 L806.25 427.5 L803.86 429.71 L800.97 431.33 L798.75 433.75 L797.75 437.08 L798.4 440.42 L798.75 443.75"/>
<path d="M770 439.5 L773.71 440.43 L777.67 440.16 L781.05 442.73 L785 442.5 L788.43 442.85 L791.88 443.11 L795.37 442.82 L798.75 443.75"/>
<path d="M798.75 443.75 L802.5 448.75 L800.02 451.69 L797.96 454.98 L795 457.5 L792.88 460.39 L790.62 463.18 L788.75 466.25 L792.49 468.14 L796.25 470 L798.65 472.36 L801.25 474.5 L805.44 474.2 L809.55 475.62 L813.75 475"/>
<path d="M813.75 475 L815.32 471.69 L817.5 468.75 L821.25 467.75 L825 468.75 L827.16 471.18 L829.49 473.48 L831.25 476.25 L834.45 474.88 L837.87 474.39 L841.25 473.75 L845.56 475.77 L850 477.5 L852.04 474.54 L855 472.5 L861.25 471.25 L864.96 468.69 L868.75 466.25"/>
<path d="M722.5 374.5 L720.75 377.36 L720.14 380.58 L719.58 383.83 L718.43 386.88 L717.5 390 L716 393.15 L714.4 396.26 L712.45 399.19 L711.25 402.5 L712.55 405.61 L714.68 408.38 L715.01 411.87 L716.25 415 L714.58 418.59 L711.78 421.48 L710 425 L710.65 428.72 L710.54 432.51 L709.94 436.33 L711.25 440 L712.14 443.7 L712.49 447.45 L712.96 451.19 L712.5 455 L712.54 458.41 L711.63 461.53 L709.56 464.32 L709.17 467.6 L708.88 470.91 L707 473.75"/>
<path d="M707 473.75 L710.68 472.02 L714.83 472.2 L718.52 470.52 L722.5 470 L725.57 468.87 L728.8 468.3 L732.09 467.9 L735 466.25 L738.21 464.46 L740 461.25 L743.58 461.31 L747.01 460.33 L750.51 459.85 L754.14 460.23 L757.5 458.75 L761.25 457.33 L764.08 454.44 L767.5 452.5 L768.37 449.3 L768.9 446.03 L769.4 442.76 L770 439.5"/>
<path d="M707 473.75 L708.63 477.09 L710.43 480.35 L711.4 483.95 L712.5 487.5 L715.6 489.4 L717.02 492.98 L720 495 L719.7 498.75 L720 502.5"/>
<path d="M720 502.5 L723.05 505.88 L725 510 L727.87 513.11 L731.37 515.39 L735 517.5 L738.41 517.48 L740.96 520.33 L744.25 520.74 L747.5 521.25 L751.77 521.83 L755.77 519.74 L760 520 L764.29 521.53 L768.75 522.5 L770.21 525.53 L771.99 528.39 L773.75 531.25 L777.05 532.59 L780.21 534.29 L783.75 535 L787.76 535.47 L791.47 536.85 L795 538.75 L800 536.25"/>
<path d="M720 502.5 L716.76 503.42 L713.45 503.12 L710.17 503.3 L706.87 502.92 L703.59 503.13 L700.31 503.42 L697.05 503.97 L693.75 503.75 L696.71 505.75 L699.05 508.54 L701.93 510.64 L705 512.5 L705 515 L701.66 515.36 L698.36 516.01 L695 516.25 L693.9 519.43 L694.83 522.78 L693.89 525.97 L693.37 529.2 L693.75 532.5 L697.5 536.25"/>
<path d="M628.75 508.75 L632.55 509.86 L636.11 511.68 L640 512.5 L643.55 513.18 L646.47 515.52 L650 516.25 L653.28 518.01 L657.06 518.8 L660 521.25 L664.09 522.44 L668.43 522.44 L672.5 523.75 L675.31 525.94 L678.92 526.54 L681.92 528.36 L685 530 L688.06 531.7 L691.33 532.96 L694.31 534.82 L697.5 536.25"/>
<path d="M672.5 523.75 L674.03 526.98 L674.65 530.55 L676.25 533.75 L674.25 536.5 L672.16 539.18 L671.06 542.59 L667.73 544.37 L666.25 547.5 L663.32 549.15 L660.9 551.68 L657.5 552.5 L655.95 555.48 L654.27 558.39 L652.47 561.24 L652.03 564.77 L650 567.5 L646.25 566.65 L642.5 567.5 L639.32 565.07 L636.25 562.5 L632.1 560.53 L627.5 560.5 L625.07 564.05 L622.5 567.5 L622.76 571.31 L623.75 575 L620.7 576.44 L617.5 577.5 L620.51 580.91 L622.5 585 L624.61 587.55 L627.18 589.55 L630 591.25 L632.81 593.29 L636.25 593.75 L637.06 597.05 L638.75 600 L641.71 597.85 L645 596.25 L646.92 593.48 L649.77 591.85 L652.26 589.78 L655 588 L658.26 586.98 L661.72 587.15 L665 586.25 L668.69 587.79 L672.5 589 L674.3 592.61 L675.75 596.37 L677.5 600 L680.68 603.07 L683.75 606.25 L686.34 603.2 L688.75 600"/>
<path d="M697.5 536.25 L699.74 538.65 L702.16 540.82 L705 542.5 L705.38 546.25 L705 550 L701.62 552.62 L697.5 553.75 L693.18 553.81 L689.15 555.35 L685 556.25 L681.52 556.49 L678.55 558.79 L675 558.75 L675.18 562.5 L674.99 566.25 L675 570 L678.06 571.94 L680 575 L682.11 577.66 L683.42 580.85 L685.13 583.77 L687.5 586.25"/>
<path d="M687.5 586.25 L690.66 584.02 L692.15 580.31 L694.42 577.3 L697.5 575 L701.72 574.45 L705.93 573.84 L710 572.5 L712.58 569.82 L715 567 L718.89 567.05 L722.42 568.92 L726.16 569.68 L730 570 L732.86 571.77 L736.12 572.76 L738.93 574.65 L741.81 576.39 L745 577.5 L748.23 575.96 L751.32 574.06 L755 573.75 L758.31 574.35 L761.63 574.85 L765 575 L766.24 578.34 L767.04 581.84 L768.75 585 L773.75 586.25"/>
<path d="M687.5 586.25 L688.13 589.66 L688.17 593.12 L688.6 596.55 L688.75 600 L689.07 603.8 L689.13 607.64 L690.76 611.23 L691.25 615 L688.24 617.55 L686.19 620.77 L684.33 624.13 L682.5 627.5 L685.69 629.46 L688.73 631.7 L692.5 632.5 L692.6 636.25 L692.56 640 L693.08 643.75 L692.24 647.5 L692.5 651.25"/>
<path d="M773.75 586.25 L777.03 585.23 L779.73 583.17 L782.5 581.25 L785.71 580.22 L788.71 578.65 L791.91 577.59 L795 576.25 L798.34 574.73 L802.12 575.31 L805.45 573.78 L808.87 572.66 L812.5 572.5"/>
<path d="M813.75 475 L816.25 480 L818.48 482.91 L820 486.25 L815.8 488.54 L811.25 490 L807.71 487.7 L803.75 486.25 L801.94 490.47 L801.25 495 L799.28 498.03 L796.25 500 L792.76 502.76 L790 506.25 L792.87 508.54 L796.25 510 L798.75 515 L802.23 516.38 L805.78 517.6 L808.75 520 L808.74 523.38 L808.26 526.71 L807.5 530 L804.88 531.94 L802.63 534.32 L800 536.25"/>
<path d="M800 536.25 L802.99 538.08 L804.4 541.34 L807.38 543.19 L808.63 546.58 L811.25 548.75 L809.27 552.29 L806.25 555 L808.26 558.16 L810 561.46 L811.25 565 L812.17 568.7 L812.5 572.5"/>
<path d="M813.75 475 L815.79 477.63 L818.45 479.53 L821.25 481.25 L824.6 482.51 L828.08 483.29 L831.79 483.24 L835 485 L838.3 487.28 L841.25 490 L845.1 490.96 L848.75 492.5 L847.37 497.09 L845 501.25 L848.75 503.75 L849.73 507.59 L851.25 511.25 L856.9 513.75 L860 510 L863.75 508.1 L866.26 511.02 L868.1 514.4 L865.6 517.5 L861.19 517.26 L856.9 516.25 L857.5 521.9 L855.43 525.08 L852.5 527.5 L855.49 529.68 L856.9 533.1 L861.25 535.6 L860 541.25 L863.27 542.19 L866.53 543.2 L870 543.1 L873.09 544.44 L876.25 545.6"/>
<path d="M876.25 545.6 L880 545 L883.43 546.76 L886.25 549.4 L890.6 552.5 L893.51 549.46 L897.5 548.1"/>
<path d="M905 555 L901.9 553.1 L900 551.25 L897.5 548.1 L900.6 545 L901.25 540 L905 538.1 L907.5 536.9"/>
<path d="M812.5 572.5 L815.87 571.34 L819.4 570.63 L822.5 568.75 L825 572.5 L830 570.6 L832.39 572.92 L835 575 L838.59 576.73 L842.5 577.5 L845.26 579.78 L848.75 580.6"/>
<path d="M848.75 580.6 L851.82 579.24 L854.05 576.67 L856.9 575 L859.55 572.21 L861.25 568.75 L862.5 562.5 L866.32 562.3 L870 561.25 L868.75 557.5 L870.65 554.4 L873.75 552.5 L874.79 548.97 L876.25 545.6"/>
<path d="M848.75 580.6 L846.25 586.25 L849.36 588.89 L851.25 592.5 L852.56 595.6 L853.75 598.75 L853.5 602 L852.5 605.4 L855.87 605.52 L859.2 605"/>
<path d="M830 627.9 L825 629.5 L822.88 632.07 L820 633.75 L820.36 638.27 L818.75 642.5 L816.46 645.06 L815.24 648.23 L813.75 651.25 L811.45 654.01 L810.6 657.5 L810.27 661.44 L807.97 664.85 L807.5 668.75 L807.5 673.75"/>
<path d="M867.1 622.1 L870.5 618.5 L873.5 616.3 L875.4 615.8"/>
<path d="M890.6 626.9 L890 626.25"/>
<path d="M807.5 673.75 L811.88 674.75 L816.25 673.75 L820 677.5 L825 681.25 L826.25 687.5 L825.89 691.41 L827.5 695 L828.86 698.08 L830 701.25"/>
<path d="M807.5 673.75 L803.73 674.23 L800 675 L796.28 676.33 L792.5 677.5 L788.97 678.24 L785.63 679.47 L782.5 681.25 L777.5 677.5 L780.04 674.4 L782.5 671.25 L784.47 668.22 L787.5 666.25 L783.93 664.01 L780 662.5 L776.25 662.76 L772.5 662.5"/>
<path d="M773.75 586.25 L774.67 589.81 L776.11 593.17 L776.66 596.87 L778.75 600 L775.75 602.96 L773.95 606.82 L771.25 610 L770.13 613.07 L768.45 615.97 L768.72 619.46 L767.5 622.5 L768.85 625.73 L770.04 629.04 L771.57 632.18 L773.75 635 L774.3 638.81 L776.13 642.34 L776.25 646.25 L776.18 649.66 L774.62 652.72 L773.79 655.95 L772.28 659.03 L772.5 662.5"/>
<path d="M772.5 662.5 L768.24 662.13 L764.29 660.22 L760 660 L756.58 662.83 L753.75 666.25 L750.1 667.58 L746.3 667.53 L742.5 667.5 L739.92 671.2 L737.5 675"/>
<path d="M737.5 675 L733.75 675.27 L730 675 L727.43 671.93 L725 668.75 L720 667.5 L721.49 664.26 L722.08 660.68 L723.75 657.5 L728.75 653.75 L726.46 649.86 L723.75 646.25 L719.24 644.7 L715 642.5 L712.69 644.81 L709.81 646.44 L707.5 648.75 L703.72 648.69 L700 648 L696.19 649.48 L692.5 651.25"/>
<path d="M737.5 675 L737.04 678.44 L738.32 681.67 L738.75 685 L737.57 688.15 L736.25 691.25 L732.5 695 L730 697.23 L728.1 700 L727.37 703.18 L726.25 706.25 L728.1 710.6 L726.25 715 L722.5 716.9 L718.81 717.91 L715.6 720 L715 726.25 L712.14 728.16 L708.75 728.75 L708.1 733.75 L704.61 734.04 L701.25 735 L700.9 739.41 L700 743.75"/>
<path d="M605 677.5 L607.68 675.29 L611.35 674.66 L613.75 672 L617.15 672.66 L619.94 675.12 L623.38 675.64 L626.49 677.16 L630 677.5 L632.75 674 L636.25 671.25 L640.27 670.19 L644.08 668.65 L647.5 666.25 L648.69 663.1 L650 660 L653.16 661.81 L655.74 664.61 L659.32 665.71 L662.5 667.5 L665.28 665.23 L668.13 663.05 L671.25 661.25 L675.08 660.23 L678.81 658.92 L682.5 657.5 L685.89 655.5 L689.67 654.14 L692.5 651.25"/>
<path d="M605 677.5 L607.5 682.5 L611.28 682.95 L615 683.75 L617.5 688.75 L621.64 689.43 L625.75 690.38 L630 690 L633.75 695 L632.5 701.25 L628.84 702.42 L625 702.5 L623.21 706.07 L622.5 710"/>
<path d="M617.5 614.5 L614.22 616.95 L613.08 621.14 L610 623.75 L606.67 624.35 L603.33 624.32 L600 623.75 L593.75 622.5 L591.33 626.33 L587.5 628.75 L588.52 632.17 L590.94 635.07 L591.25 638.75 L594.62 638.61 L598.02 638.71 L601.25 637.5 L604.38 639.37 L606.25 642.5 L605.16 645.69 L604.68 649.12 L602.1 651.72 L601.25 655 L603.46 657.59 L605.12 660.54 L606.85 663.45 L608.75 666.25 L607.22 669.91 L606.43 673.81 L605 677.5"/>
<path d="M617.5 614.5 L621 614.36 L624.49 613.9 L628 614.11 L631.47 613.26 L635 613.75 L636.25 608.75 L632.52 606.8 L628.29 605.81 L625 603 L625 597.5 L628.66 595.99 L632.82 595.95 L636.25 593.75"/>
<path d="M506.25 587.5 L507.21 591.01 L508.92 594.31 L509.11 598.04 L510.76 601.35 L511.25 605 L511.66 601.54 L513.37 598.6 L515.38 595.78 L516.25 592.5 L518.28 595.14 L520.67 597.46 L523.2 599.66 L525 602.5 L527.21 606.01 L527.65 610.3 L530 613.75 L533.17 612.62 L536.25 611.25 L538.29 614.47 L540.29 617.71 L541.62 621.25 L542.5 625 L543.19 628.3 L546.18 630.32 L547.22 633.42 L548.75 636.25 L549.89 639.62 L551.33 642.89 L552.5 646.25 L556.28 646.72 L560 647.5 L563.07 645.54 L566.46 644.46 L570 643.75 L573.47 643.36 L576.25 641.25 L575.34 637.55 L575.71 633.69 L573.83 630.12 L574.1 626.27 L573.75 622.5 L576.98 619.48 L580 616.25 L582.06 613.71 L582.59 610.33 L584.97 607.97 L586.25 605 L588.5 602.64 L590.1 599.74 L592.5 597.5 L596.27 597.51 L600 597 L600.91 600.44 L601.27 603.95 L601.25 607.5 L606.25 611.25 L610 609.62 L613.75 608 L616.49 610.75 L617.5 614.5"/>
<path d="M506.25 587.5 L502.52 588.81 L498.75 590 L499.71 593.27 L500.38 596.57 L500 600 L496.79 602.28 L493.11 603.81 L490 606.25"/>
<path d="M476.25 517 L479.73 517.53 L482.98 519.18 L486.7 518.63 L490 520 L492.21 522.8 L492.36 526.63 L494.49 529.47 L496.25 532.5 L498.34 535.95 L501.25 538.75 L497.5 543.75 L499.95 546.4 L501.31 549.84 L503.75 552.5 L503.86 556.01 L503.89 559.53 L504.49 563 L504.09 566.55 L505 570 L505.61 573.47 L506.03 576.96 L506.56 580.44 L505.36 584.05 L506.25 587.5"/>
<path d="M333.75 445 L336.54 447.21 L338.75 450 L337.58 453.2 L335.87 456.09 L333.75 458.75 L335.23 462.42 L336.25 466.25 L340 468.75 L340.7 472.92 L340.16 477.08 L340 481.25 L337 486.25 L339.54 489.39 L341.75 492.75 L343.75 496.25 L346.97 497.9 L349.57 500.43 L352.5 502.5 L356.29 502.87 L359.99 503.81 L363.73 504.51 L367.5 505 L370.56 506.42 L374.12 506.57 L376.98 508.48 L380 510 L383.59 510.32 L386.91 511.92 L390.68 511.4 L394.08 512.62 L397.5 513.75 L400.88 514.68 L404.22 515.74 L407.5 517 L411.84 517.79 L416.25 517.5 L419.51 516.27 L423.07 516.01 L426.25 514.5 L430.03 516.08 L433.47 518.17 L436.25 521.25 L437.33 524.5 L439.38 527.2 L441.25 530 L445.55 531.51 L450 532.5 L455 536.25 L456.25 530 L460.6 531.94 L465 533.75 L465 527.5 L469.45 526.51 L473.75 525 L474.36 520.8 L476.25 517"/>
<path d="M917.5 540.6 L913.1 539.4 L907.5 536.9 L904.99 534.57 L901.9 533.1 L905 530.25 L910 533 L915 536.5 L918 538"/>
<path d="M830.7 363.3 L831.3 367.3 L832.7 368.7 L831 370 L830.7 372 L827.3 371.7 L826.7 370"/>
</g>
<g fill="none" stroke="#555" stroke-linecap="butt">
<path d="M932 679.5 L927 702" stroke-width="1.6"/>
<path d="M916.25 738 L902.5 756.25" stroke-width="1"/>
<path d="M882.5 792.5 L872.5 813.75" stroke-width="1"/>
<path d="M865 853 L865 875.5" stroke-width="1.6"/>
<path d="M689.5 850 L696.25 860 L699.5 872.5" stroke-width="0.9"/>
<path d="M708 931.25 L707 943.75 L703.25 952" stroke-width="1.2"/>
<path d="M670.5 1037 L670 1047.5 L672 1059.5" stroke-width="1.2"/>
<path d="M734.5 1111.75 L753.75 1105" stroke-width="0.9"/>
<path d="M802 1035.5 L814.5 1018" stroke-width="0.9"/>
<path d="M855.5 959.5 L863.75 936.25" stroke-width="0.9"/>
</g>
<g fill="#5a5a5a" shape-rendering="crispEdges">
<rect x="728" y="831" width="1.4" height="2"/>
<rect x="741.5" y="834.8" width="3" height="1.4"/>
<rect x="730" y="844" width="2.6" height="2"/>
<rect x="737.2" y="847.5" width="3" height="1"/>
<rect x="746.8" y="844" width="1.4" height="2"/>
<rect x="731.5" y="849.8" width="2" height="1.4"/>
<rect x="746.8" y="848.5" width="1.4" height="2"/>
<rect x="748" y="853.2" width="1.4" height="1"/>
<rect x="734.3" y="853.2" width="1.4" height="1"/>
<rect x="741" y="860" width="2" height="1"/>
<rect x="775.2" y="854" width="2" height="2"/>
<rect x="780.5" y="851.5" width="1.4" height="2"/>
<rect x="786.5" y="849.8" width="3" height="1.4"/>
<rect x="788.7" y="854.3" width="2.6" height="1.4"/>
<rect x="783" y="862" width="1.4" height="2"/>
<rect x="770.8" y="865" width="2" height="1"/>
<rect x="822" y="847" width="2" height="2"/>
<rect x="840.7" y="871" width="2.6" height="2"/>
<rect x="798.8" y="896.5" width="1.4" height="1"/>
<rect x="785.5" y="946.5" width="1.4" height="1"/>
<rect x="823" y="947" width="1.4" height="1"/>
<rect x="775" y="957.8" width="2.6" height="2"/>
<rect x="782.8" y="959.3" width="2" height="1.4"/>
<rect x="786.2" y="954.5" width="2.6" height="1"/>
<rect x="790.2" y="955.2" width="2" height="2"/>
<rect x="832.2" y="955.2" width="3" height="2"/>
<rect x="838.7" y="956.3" width="2.6" height="1.4"/>
<rect x="841.5" y="960.8" width="2" height="1"/>
<rect x="831.5" y="962.3" width="2" height="1.4"/>
<rect x="765" y="971" width="2.6" height="2"/>
<rect x="777.5" y="970.2" width="2.6" height="2"/>
<rect x="786.5" y="969" width="2" height="2"/>
<rect x="796.5" y="972" width="2" height="2"/>
<rect x="805.5" y="967" width="1.4" height="2"/>
<rect x="818.5" y="969.5" width="3" height="1"/>
<rect x="824" y="966.5" width="2" height="2"/>
<rect x="832.2" y="970.2" width="3" height="2"/>
<rect x="770.2" y="975.2" width="2" height="2"/>
<rect x="785" y="977" width="2.6" height="2"/>
<rect x="799.8" y="978" width="3" height="1.4"/>
<rect x="810" y="974.5" width="2.6" height="2"/>
<rect x="834.3" y="975.2" width="1.4" height="2"/>
<rect x="785.2" y="982" width="2" height="2"/>
<rect x="806.2" y="981.8" width="2.6" height="1.4"/>
<rect x="811" y="985" width="3" height="1"/>
<rect x="819" y="981.3" width="2" height="1.4"/>
<rect x="746.5" y="986" width="3" height="1.4"/>
<rect x="776.5" y="989" width="2" height="2"/>
<rect x="799" y="989.5" width="2" height="1"/>
<rect x="808.5" y="991" width="3" height="2"/>
<rect x="766.2" y="993" width="2.6" height="1.4"/>
<rect x="767.8" y="997" width="2" height="2"/>
<rect x="772.2" y="1000.8" width="3" height="1"/>
<rect x="776.2" y="1001.5" width="2.6" height="2"/>
<rect x="784" y="999" width="2" height="2"/>
<rect x="813.5" y="999" width="3" height="1"/>
<rect x="818.7" y="995.2" width="2.6" height="2"/>
<rect x="822.2" y="996.5" width="3" height="1"/>
<rect x="741" y="999" width="3" height="2"/>
<rect x="748" y="999.8" width="1.4" height="1.4"/>
<rect x="752.5" y="998.5" width="2.6" height="2"/>
<rect x="727.2" y="1006" width="3" height="2"/>
<rect x="731.7" y="1004.3" width="2.6" height="1.4"/>
<rect x="795.2" y="1009.8" width="2" height="1.4"/>
<rect x="801" y="1007" width="2" height="1"/>
<rect x="754" y="1008.2" width="2" height="2"/>
<rect x="761.5" y="1012.8" width="2" height="2"/>
<rect x="782.5" y="1014.3" width="2.6" height="1.4"/>
<rect x="789" y="1017" width="2" height="1"/>
<rect x="710.7" y="1014" width="2.6" height="2"/>
<rect x="701.8" y="1019" width="1.4" height="2"/>
<rect x="711.7" y="1020.8" width="2.6" height="1"/>
<rect x="731" y="1020.2" width="2" height="2"/>
<rect x="736" y="1017" width="3" height="1"/>
<rect x="729" y="1026" width="2" height="2"/>
<rect x="753.5" y="1020.2" width="3" height="1"/>
<rect x="789.3" y="1027" width="1.4" height="1"/>
<rect x="791.5" y="1027.8" width="2" height="2"/>
<rect x="769.8" y="1030.5" width="3" height="1.4"/>
<rect x="787.8" y="1032.8" width="2" height="2"/>
<rect x="692.5" y="1030" width="2.6" height="1"/>
<rect x="698.7" y="1026.8" width="2.6" height="1.4"/>
<rect x="765.2" y="1039.5" width="2" height="1"/>
<rect x="759.5" y="1052.3" width="2" height="1.4"/>
<rect x="747" y="1059" width="2" height="2"/>
<rect x="744.3" y="1065.8" width="1.4" height="1"/>
<rect x="748" y="1069.5" width="1.4" height="1"/>
<rect x="748" y="1076.5" width="3" height="2"/>
<rect x="753.7" y="1077.8" width="2.6" height="2"/>
<rect x="738" y="1101.5" width="1.4" height="2"/>
<rect x="741.8" y="1100.8" width="1.4" height="1"/>
<rect x="907.8" y="717.8" width="2" height="2"/>
<rect x="908.2" y="730.5" width="3" height="1.4"/>
<rect x="871.8" y="703.4" width="1.4" height="2"/>
<rect x="870.2" y="707.1" width="2" height="2"/>
<rect x="919" y="659" width="2" height="2"/>
<rect x="722.1" y="773.7" width="2" height="1.4"/>
<rect x="728.4" y="832" width="2" height="1"/>
<rect x="742.1" y="834" width="2" height="2"/>
<rect x="943" y="655" width="1.4" height="1"/>
<rect x="947.3" y="650.8" width="1.4" height="2"/>
<rect x="962.2" y="650.8" width="3" height="2"/>
<rect x="918.8" y="659" width="1.4" height="1"/>
</g>
<rect x="58" y="805.2" width="33" height="34.15" fill="#ffffe5" shape-rendering="crispEdges"/>
<rect x="58" y="838.75" width="33" height="34.15" fill="#fff8c1" shape-rendering="crispEdges"/>
<rect x="58" y="872.3" width="33" height="34.15" fill="#fee79b" shape-rendering="crispEdges"/>
<rect x="58" y="905.85" width="33" height="34.15" fill="#fece65" shape-rendering="crispEdges"/>
<rect x="58" y="939.4" width="33" height="34.15" fill="#feac3a" shape-rendering="crispEdges"/>
<rect x="58" y="972.95" width="33" height="34.15" fill="#f68720" shape-rendering="crispEdges"/>
<rect x="58" y="1006.5" width="33" height="34.15" fill="#e1640e" shape-rendering="crispEdges"/>
<rect x="58" y="1040.05" width="33" height="34.15" fill="#c14702" shape-rendering="crispEdges"/>
<rect x="58" y="1073.6" width="33" height="34.15" fill="#933204" shape-rendering="crispEdges"/>
<rect x="58" y="1107.15" width="33" height="33.55" fill="#662506" shape-rendering="crispEdges"/>
<g fill="#000"><rect x="24" y="24" width="1152" height="1"/><rect x="24" y="24" width="1" height="1152"/><rect x="1174" y="24" width="2" height="1152"/><rect x="24" y="1174" width="1152" height="2"/></g>
</svg>
<div class="t" id="title"><span class="c">父系：</span> O-MF231676_ (<span class="c">不含下游</span>)</div>
<div class="t" id="ltitle">相对占比</div>
<div class="t lab" style="top:810.3px">0.045% - 0.045%</div>
<div class="t lab" style="top:843.85px">0.045% - 0.066%</div>
<div class="t lab" style="top:877.4px">0.066% - 0.087%</div>
<div class="t lab" style="top:910.95px">0.087% - 0.107%</div>
<div class="t lab" style="top:944.5px">0.107% - 0.128%</div>
<div class="t lab" style="top:978.05px">0.128% - 0.149%</div>
<div class="t lab" style="top:1011.6px">0.149% - 0.169%</div>
<div class="t lab" style="top:1045.15px">0.169% - 0.190%</div>
<div class="t lab" style="top:1078.7px">0.190% - 0.211%</div>
<div class="t lab" style="top:1112.25px">0.211% - 0.252%</div>
<div class="t credit"><span class="c">作者</span>:O1a<span class="c">溯源群</span></div>
</body></html>
